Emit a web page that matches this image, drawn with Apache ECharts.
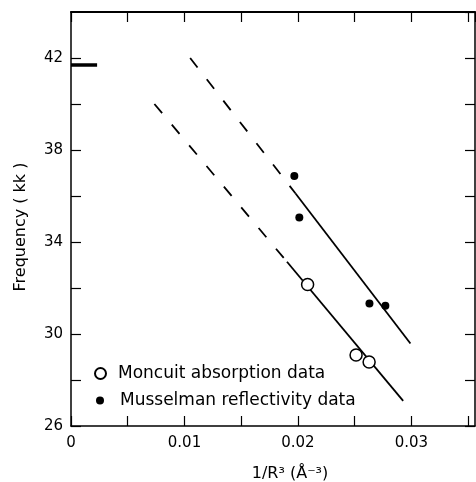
<!DOCTYPE html>
<html>
<head>
<meta charset="utf-8">
<script src="https://cdn.jsdelivr.net/npm/echarts@6/dist/echarts.min.js"></script>
<style>html,body{margin:0;padding:0;background:#fff}#c{width:476px;height:482px}</style>
</head>
<body>
<div id="c"></div>
<script>
// Data
const moncuit = [[0.02085, 32.15], [0.02512, 29.09], [0.02627, 28.78]];
const musselman = [[0.01968, 36.87], [0.02012, 35.07], [0.0263, 31.33], [0.0277, 31.23]];
const upperDashed = [[0.0105, 42.0], [0.01977, 36.12]];
const upperSolid = [[0.01977, 36.12], [0.02991, 29.59]];
const lowerDashed = [[0.00735, 40.0], [0.01903, 33.14]];
const lowerSolid = [[0.01903, 33.14], [0.02927, 27.09]];
const freeMarker = [[0, 41.7], [0.0023, 41.7]];
const xTickLabels = ['0', '0.01', '0.02', '0.03'];
const yTickLabels = ['26', '30', '34', '38', '42'];

const chart = echarts.init(document.getElementById('c'));
const font = 'DejaVu Sans';
const xFmt = v => {
  const k = Math.round(v * 100);
  if (Math.abs(v * 100 - k) < 1e-6 && k < xTickLabels.length) return xTickLabels[k];
  return '';
};
const yFmt = v => {
  const s = String(Math.round(v));
  return yTickLabels.indexOf(s) >= 0 && Math.abs(v - Math.round(v)) < 1e-6 ? s : '';
};
const axisLine = {show: true, onZero: false, lineStyle: {color: '#000', width: 1.5}};
const tick = {show: true, inside: true, length: 10, lineStyle: {color: '#000', width: 1.2}};
const lineSeries = (data, dashed) => ({
  type: 'line', data, showSymbol: false, silent: true, xAxisIndex: 0, yAxisIndex: 0,
  lineStyle: {color: '#000', width: 1.8, type: dashed ? [12, 15] : 'solid'},
  itemStyle: {color: '#000'}, z: 2
});
chart.setOption({
  animation: false,
  backgroundColor: '#fff',
  grid: {left: 71, right: 1, top: 12, bottom: 56, containLabel: false, outerBoundsMode: 'none'},
  legend: [
    {data: ['Moncuit absorption data'], orient: 'vertical', left: 89, top: 360,
     itemWidth: 11, itemHeight: 11, selectedMode: false,
     textStyle: {fontFamily: font, fontSize: 17, color: '#000', padding: [0, 0, 0, 7]}},
    {data: ['Musselman reflectivity data'], orient: 'vertical', left: 91, top: 387,
     itemWidth: 8, itemHeight: 8, selectedMode: false,
     textStyle: {fontFamily: font, fontSize: 17, color: '#000', padding: [0, 0, 0, 11]}}
  ],
  xAxis: [
    {type: 'value', min: 0, max: 0.0356, interval: 0.005, position: 'bottom',
     axisLine, axisTick: tick, splitLine: {show: false},
     axisLabel: {formatter: xFmt, fontFamily: font, fontSize: 15, color: '#000', margin: 10, showMaxLabel: false},
     name: '1/R³ (Å⁻³)', nameLocation: 'middle', nameGap: 40,
     nameTextStyle: {fontFamily: font, fontSize: 16, color: '#000', padding: [0, 0, 0, 34]}},
    {type: 'value', min: 0, max: 0.0356, interval: 0.005, position: 'top',
     axisLine: {show: true, onZero: false, lineStyle: {color: '#000', width: 2}}, axisTick: tick,
     splitLine: {show: false}, axisLabel: {show: false}}
  ],
  yAxis: [
    {type: 'value', min: 26, max: 44, interval: 2, position: 'left',
     axisLine, axisTick: tick, splitLine: {show: false},
     axisLabel: {formatter: yFmt, fontFamily: font, fontSize: 15, color: '#000', margin: 8, showMaxLabel: false},
     name: 'Frequency ( kk )', nameLocation: 'middle', nameGap: 42,
     nameTextStyle: {fontFamily: font, fontSize: 16, color: '#000', padding: [0, 16, 0, 0]}},
    {type: 'value', min: 26, max: 44, interval: 2, position: 'right',
     axisLine, axisTick: tick, splitLine: {show: false}, axisLabel: {show: false}}
  ],
  series: [
    lineSeries(upperDashed, true),
    lineSeries(upperSolid, false),
    lineSeries(lowerDashed, true),
    lineSeries(lowerSolid, false),
    {type: 'line', data: freeMarker, showSymbol: false, silent: true,
     lineStyle: {color: '#000', width: 3.5}, itemStyle: {color: '#000'}},
    {name: 'Moncuit absorption data', type: 'scatter', data: moncuit, symbol: 'circle', symbolSize: 12,
     itemStyle: {color: '#fff', borderColor: '#000', borderWidth: 1.5, opacity: 1}, z: 5},
    {name: 'Musselman reflectivity data', type: 'scatter', data: musselman, symbol: 'circle', symbolSize: 8,
     itemStyle: {color: '#000', opacity: 1}, z: 5}
  ]
});
</script>
</body>
</html>
